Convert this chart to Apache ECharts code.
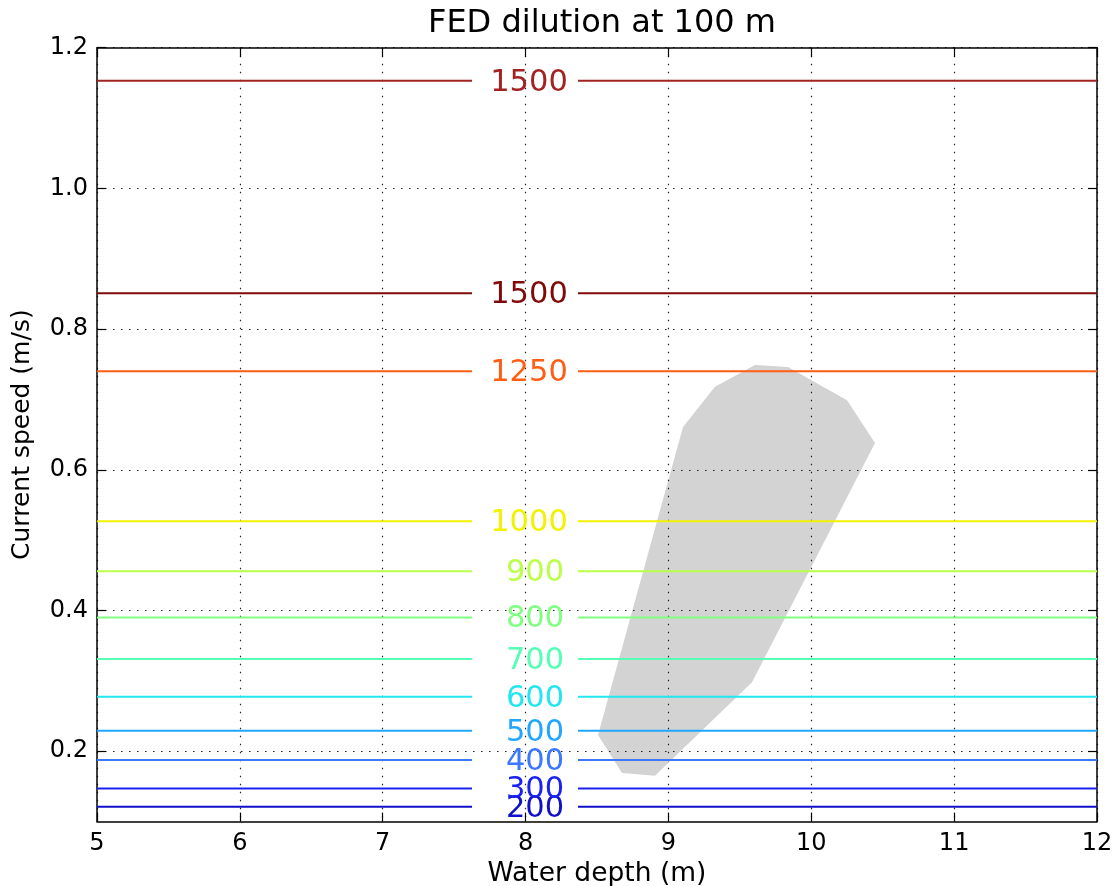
<!DOCTYPE html>
<html>
<head>
<meta charset="utf-8">
<script src="https://cdn.jsdelivr.net/npm/echarts@6/dist/echarts.min.js"></script>
<style>html,body{margin:0;padding:0;background:#fff}#c{width:1118px;height:886px}</style>
</head>
<body>
<div id="c"></div>
<script>
// Contour levels (labels) and the current speed at which each flat contour sits
var levels = ['200', '300', '400', '500', '600', '700', '800', '900', '1000', '1250', '1500', '1500'];
var levelSpeeds = [0.121, 0.147, 0.1875, 0.229, 0.2775, 0.331, 0.390, 0.456, 0.527, 0.740, 0.851, 1.153];
var levelColors = ['#1010c8', '#1a22f0', '#3a78ff', '#22a6ff', '#22e6f2', '#55ffb6', '#80ff80', '#bbff4a', '#f2f200', '#ff5e14', '#800a0a', '#a32222'];
// Grey region (water depth, current speed) vertices
var regionDepth = [8.507, 8.675, 8.906, 9.585, 10.446, 10.25, 9.837, 9.606, 9.326, 9.102];
var regionSpeed = [0.223, 0.169, 0.165, 0.298, 0.638, 0.699, 0.746, 0.749, 0.718, 0.661];
var xTicks = [5, 6, 7, 8, 9, 10, 11, 12];
var yTicks = [0.2, 0.4, 0.6, 0.8, 1.0, 1.2];

var XMIN = 5, XMAX = 12, YMIN = 0.1, YMAX = 1.2;
var GAP_A = 7.625, GAP_B = 8.367;
var FONT = 'DejaVu Sans';

var chart = echarts.init(document.getElementById('c'));
var series = [];

var poly = regionDepth.map(function (d, i) { return [d, regionSpeed[i]]; });
series.push({
  type: 'custom', z: -5, silent: true,
  data: [0],
  renderItem: function (params, api) {
    var pts = poly.map(function (p) { return api.coord(p); });
    return { type: 'polygon', shape: { points: pts }, style: { fill: '#d3d3d3', stroke: null } };
  }
});

levels.forEach(function (lv, i) {
  var y = levelSpeeds[i];
  series.push({
    type: 'line', silent: true, symbol: 'none', connectNulls: false,
    lineStyle: { color: levelColors[i], width: 2 },
    data: [[XMIN, y], [GAP_A, y], '-', [GAP_B, y], [XMAX, y]],
    z: 3
  });
});

var labelData = levels.map(function (lv, i) {
  var cx = lv.length === 4 ? 8.024 : 8.066;
  return {
    value: [cx, levelSpeeds[i]],
    label: { show: true, formatter: lv, color: levelColors[i], fontSize: 30.5, fontFamily: FONT,
      position: 'inside', offset: [0, 2], textBorderWidth: 0, textBorderColor: 'transparent', opacity: 1 }
  };
});
series.push({ type: 'scatter', symbolSize: 1, itemStyle: { color: 'rgba(0,0,0,0)' }, data: labelData, z: 4, silent: true });

var gridLine = { show: true, lineStyle: { color: '#222', width: 1.2, type: [1.5, 6.5] } };
var tickStyle = { show: true, inside: true, length: 9, lineStyle: { color: '#000', width: 1.2 } };

chart.setOption({
  animation: false,
  title: {
    text: 'FED dilution at 100 m', left: 597, textAlign: 'center', top: 3,
    textStyle: { fontFamily: FONT, fontSize: 32, fontWeight: 'normal', color: '#000' }
  },
  grid: { left: 97, right: 21, top: 47.7, bottom: 64.4, containLabel: false, outerBoundsMode: 'none' },
  xAxis: [{
    type: 'value', min: XMIN, max: XMAX, interval: 1, position: 'bottom',
    name: 'Water depth (m)', nameLocation: 'middle', nameGap: 36,
    nameTextStyle: { fontFamily: FONT, fontSize: 26.5, color: '#000' },
    axisLine: { show: true, onZero: false, lineStyle: { color: '#000', width: 1.5 } },
    axisTick: tickStyle,
    axisLabel: { fontFamily: FONT, fontSize: 24, color: '#000', margin: 10 },
    splitLine: gridLine
  }, {
    type: 'value', min: XMIN, max: XMAX, interval: 1, position: 'top',
    axisLine: { show: true, onZero: false, lineStyle: { color: '#000', width: 1.5 } },
    axisTick: tickStyle, axisLabel: { show: false }, splitLine: { show: false }
  }],
  yAxis: [{
    type: 'value', min: YMIN, max: YMAX, position: 'left',
    name: 'Current speed (m/s)', nameLocation: 'middle', nameGap: 62,
    nameTextStyle: { fontFamily: FONT, fontSize: 25, color: '#000' },
    axisLine: { show: true, onZero: false, lineStyle: { color: '#000', width: 1.5 } },
    axisTick: Object.assign({ customValues: yTicks }, tickStyle),
    axisLabel: { customValues: yTicks, fontFamily: FONT, fontSize: 24, color: '#000', margin: 9,
      formatter: function (v) { return v.toFixed(1); } },
    splitLine: gridLine
  }, {
    type: 'value', min: YMIN, max: YMAX, position: 'right',
    axisLine: { show: true, onZero: false, lineStyle: { color: '#000', width: 1.5 } },
    axisTick: Object.assign({ customValues: yTicks }, tickStyle),
    axisLabel: { show: false }, splitLine: { show: false }
  }],
  series: series
});
</script>
</body>
</html>
